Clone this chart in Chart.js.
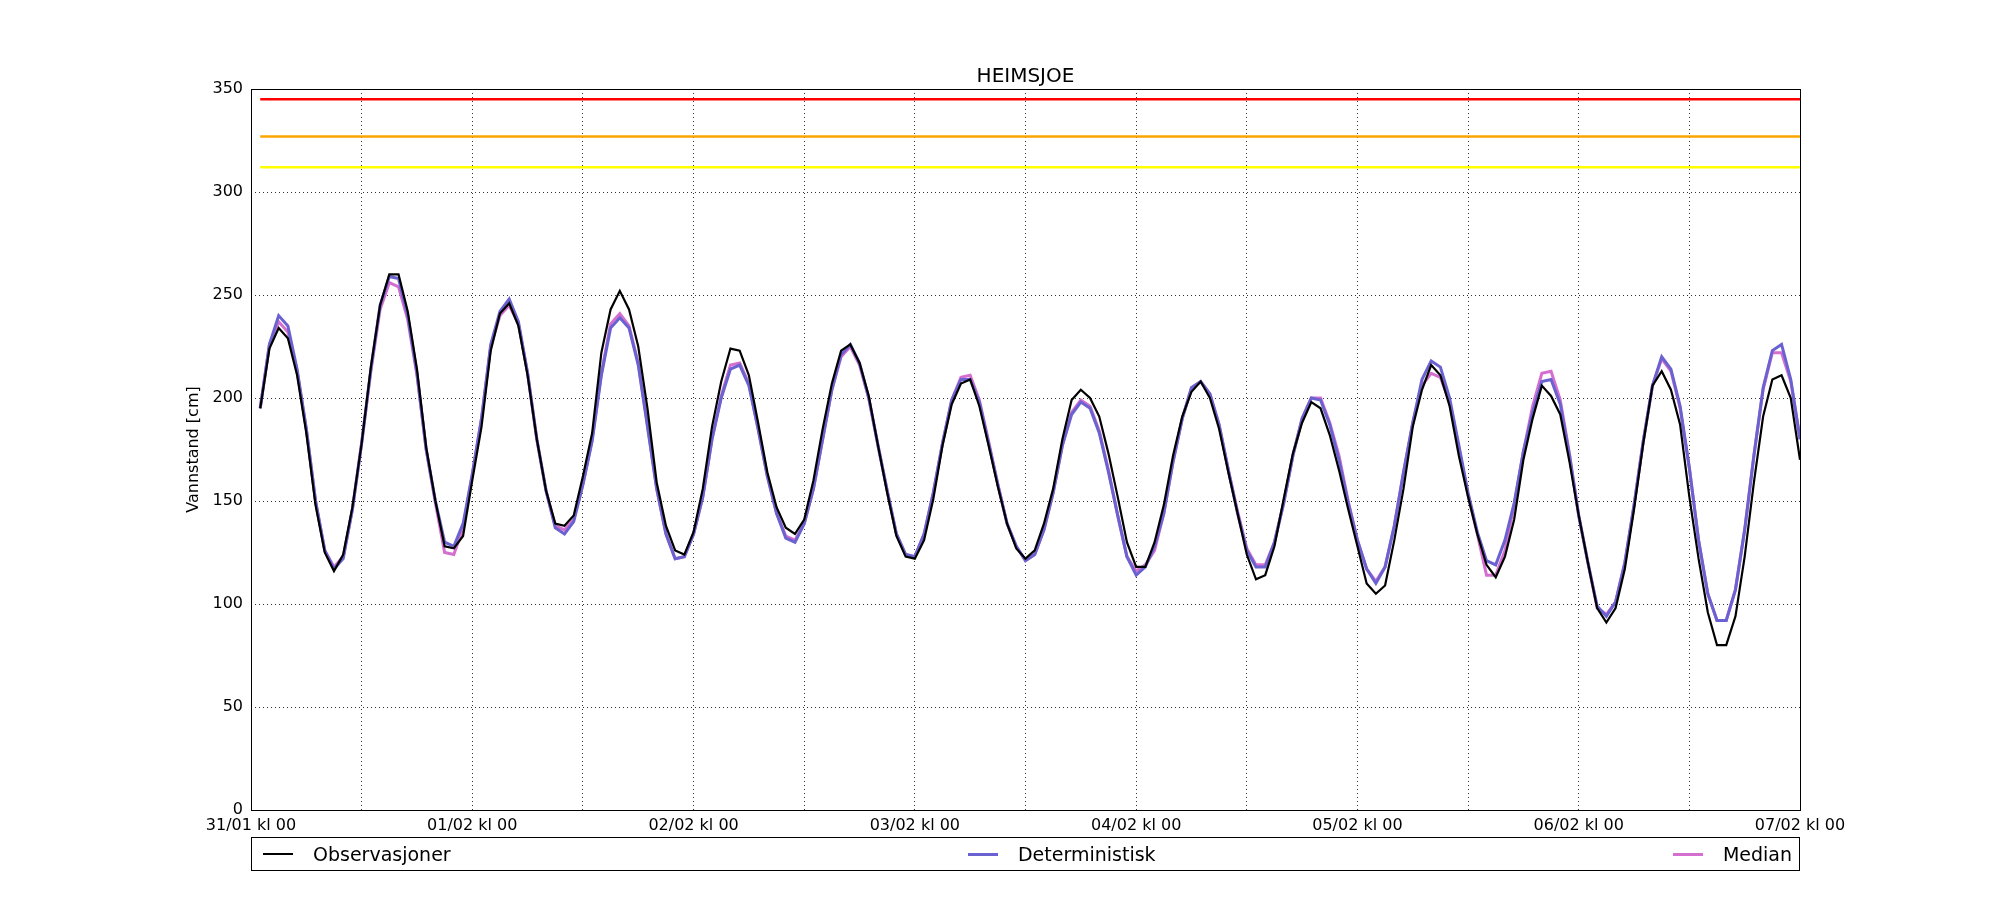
<!DOCTYPE html>
<html>
<head>
<meta charset="utf-8">
<title>HEIMSJOE</title>
<script src="https://cdn.jsdelivr.net/npm/chart.js@4.4.1/dist/chart.umd.min.js"></script>
<style>
  body { margin: 0; background: #fff; font-family: "DejaVu Sans", sans-serif; }
  #wrap { position: relative; width: 2000px; height: 900px; }
  #legend {
    position: absolute; left: 251px; top: 837px; width: 1549px; height: 34px;
    border: 1px solid #000; display: flex; justify-content: space-between; align-items: center;
    padding: 0 7px 0 11px; box-sizing: border-box; font-size: 19px; color: #000;
  }
  .item { display: flex; align-items: center; }
  .swatch { width: 30px; margin-right: 20px; }
</style>
</head>
<body>
<div id="wrap">
  <canvas id="chart" width="2000" height="900"></canvas>
  <div id="legend"></div>
</div>
<script>
// Station and series names
const stationName = 'HEIMSJOE';
const seriesNames = ['Observasjoner', 'Deterministisk', 'Median'];

// x tick labels, one per day (every 24 hours from 31/01 kl 00)
const dayLabels = ['31/01 kl 00', '01/02 kl 00', '02/02 kl 00', '03/02 kl 00',
                   '04/02 kl 00', '05/02 kl 00', '06/02 kl 00', '07/02 kl 00'];

// warning levels [cm]
const thresholds = [345, 327, 312];

// hourly water level [cm], hour 1 .. 168
const observed = [
  195, 224, 234, 229, 211, 183, 148, 125, 116, 124, 147, 178,
  215, 245, 260, 260, 242, 214, 176, 150, 128, 127, 133, 160,
  186, 223, 241, 246, 235, 211, 180, 155, 139, 138, 143, 162,
  183, 222, 243, 252, 243, 225, 195, 159, 138, 126, 124, 135,
  156, 186, 208, 224, 223, 211, 188, 164, 147, 137, 134, 141,
  160, 185, 207, 223, 226, 217, 201, 177, 154, 133, 123, 122,
  131, 151, 177, 197, 207, 209, 196, 177, 157, 139, 127, 122,
  126, 139, 156, 180, 199, 204, 200, 191, 173, 152, 130, 118,
  118, 130, 148, 172, 191, 203, 208, 200, 185, 164, 144, 124,
  112, 114, 128, 151, 173, 188, 198, 195, 182, 165, 146, 128,
  110, 105, 109, 131, 156, 186, 204, 216, 211, 196, 172, 152,
  134, 119, 113, 123, 141, 170, 190, 206, 201, 192, 169, 143,
  120, 98, 91, 98, 117, 146, 178, 206, 213, 204, 187, 152,
  122, 96, 80, 80, 94, 123, 159, 191, 209, 211, 200, 170
];

const deterministic = [
  195, 226, 240, 235, 214, 185, 150, 126, 117, 122, 146, 178,
  214, 245, 259, 258, 240, 212, 175, 150, 130, 128, 139, 163,
  190, 226, 242, 248, 237, 212, 180, 155, 137, 134, 140, 158,
  179, 211, 234, 239, 234, 216, 186, 156, 134, 122, 123, 134,
  152, 180, 200, 214, 216, 206, 185, 162, 144, 132, 130, 139,
  156, 180, 204, 221, 226, 217, 200, 177, 155, 134, 124, 123,
  134, 154, 178, 199, 209, 209, 198, 178, 158, 139, 128, 121,
  124, 136, 154, 177, 192, 198, 195, 183, 164, 143, 123, 114,
  118, 128, 144, 169, 190, 205, 208, 202, 187, 165, 144, 126,
  118, 118, 130, 149, 172, 190, 200, 199, 187, 170, 149, 131,
  117, 110, 118, 138, 164, 188, 209, 218, 215, 200, 177, 154,
  135, 121, 119, 131, 149, 174, 193, 208, 209, 197, 172, 143,
  120, 99, 94, 101, 120, 148, 179, 206, 220, 214, 196, 166,
  131, 105, 92, 92, 107, 136, 172, 205, 223, 226, 209, 180
];

const median = [
  195, 226, 237, 232, 213, 185, 150, 126, 118, 123, 146, 178,
  213, 243, 256, 254, 238, 211, 175, 149, 125, 124, 137, 163,
  190, 225, 240, 245, 236, 212, 180, 155, 138, 136, 141, 158,
  180, 212, 236, 241, 235, 217, 187, 156, 134, 122, 123, 134,
  152, 180, 201, 216, 217, 207, 185, 162, 144, 133, 131, 139,
  156, 180, 204, 220, 225, 216, 200, 177, 155, 134, 124, 123,
  134, 154, 178, 199, 210, 211, 199, 179, 158, 139, 128, 121,
  124, 136, 154, 177, 193, 199, 196, 184, 165, 143, 123, 116,
  119, 126, 144, 169, 190, 205, 208, 202, 187, 165, 145, 127,
  119, 119, 130, 149, 172, 190, 200, 200, 188, 172, 150, 131,
  117, 111, 118, 138, 164, 188, 206, 212, 210, 198, 176, 153,
  134, 114, 114, 126, 148, 174, 196, 212, 213, 199, 173, 143,
  120, 98, 95, 101, 120, 148, 179, 206, 219, 213, 195, 166,
  131, 105, 92, 92, 107, 136, 172, 204, 222, 222, 208, 180
];

// x in hours from 31/01 kl 00
const hours = observed.map((v, i) => i + 1);

function toPoints(values) {
  return values.map((v, i) => ({ x: hours[i], y: v }));
}

function levelLine(value) {
  return [{ x: hours[0], y: value }, { x: hours[hours.length - 1], y: value }];
}

const lineColors = ['#000000', '#6a62d0', '#d46fd0'];
const lineWidths = [2.2, 3, 3];
const levelColors = ['#ff0000', '#ffa500', '#ffff00'];

const datasets = [observed, deterministic, median].map((vals, i) => ({
  label: seriesNames[i],
  data: toPoints(vals),
  borderColor: lineColors[i],
  borderWidth: lineWidths[i],
  pointRadius: 0,
  tension: 0,
  order: i
}));

thresholds.forEach((t, i) => {
  datasets.push({
    label: 'level' + i,
    data: levelLine(t),
    borderColor: levelColors[i],
    borderWidth: 2.5,
    pointRadius: 0,
    order: 10 + i
  });
});

// box around the plot area and the title centred over it (matplotlib style)
const frame = {
  id: 'frame',
  afterDraw(chart) {
    const a = chart.chartArea, ctx = chart.ctx;
    ctx.save();
    ctx.strokeStyle = '#000';
    ctx.lineWidth = 1;
    ctx.strokeRect(Math.round(a.left) + 0.5, Math.round(a.top) + 0.5,
                   Math.round(a.right - a.left), Math.round(a.bottom - a.top));
    ctx.fillStyle = '#000';
    ctx.font = '20px "DejaVu Sans"';
    ctx.textAlign = 'center';
    ctx.textBaseline = 'middle';
    ctx.fillText(stationName, (a.left + a.right) / 2, a.top - 12);
    ctx.restore();
  }
};

const gridDash = { display: false, dash: [1, 3] };

const ctx = document.getElementById('chart').getContext('2d');
new Chart(ctx, {
  type: 'line',
  data: { datasets: datasets },
  options: {
    responsive: false,
    animation: false,
    devicePixelRatio: 1,
    layout: { padding: { left: 180, right: 200, top: 89, bottom: 0 } },
    plugins: {
      legend: { display: false },
      tooltip: { enabled: false },
      title: { display: false }
    },
    scales: {
      x: {
        type: 'linear',
        min: 0,
        max: 168,
        afterFit(scale) { scale.height = 90; },
        border: gridDash,
        grid: { color: 'rgba(0,0,0,0.8)', lineWidth: 1, drawTicks: false },
        ticks: {
          stepSize: 12,
          autoSkip: false,
          maxRotation: 0,
          padding: 6,
          color: '#000',
          font: { family: 'DejaVu Sans', size: 16 },
          callback: (v) => (v % 24 === 0 ? dayLabels[v / 24] : '')
        }
      },
      y: {
        min: 0,
        max: 350,
        afterFit(scale) { scale.width = 71; },
        border: gridDash,
        grid: { color: 'rgba(0,0,0,0.8)', lineWidth: 1, drawTicks: false },
        ticks: {
          stepSize: 50,
          padding: 8,
          color: '#000',
          font: { family: 'DejaVu Sans', size: 16 }
        },
        title: {
          display: true,
          text: 'Vannstand [cm]',
          color: '#000',
          font: { family: 'DejaVu Sans', size: 16 },
          padding: { top: 4, bottom: 4 }
        }
      }
    }
  },
  plugins: [frame]
});

// legend laid out like matplotlib's expanded three-column legend
const legend = document.getElementById('legend');
seriesNames.forEach((name, i) => {
  const item = document.createElement('div');
  item.className = 'item';
  const sw = document.createElement('div');
  sw.className = 'swatch';
  sw.style.height = Math.round(lineWidths[i]) + 'px';
  sw.style.background = lineColors[i];
  const txt = document.createElement('span');
  txt.textContent = name;
  item.appendChild(sw);
  item.appendChild(txt);
  legend.appendChild(item);
});
</script>
</body>
</html>
